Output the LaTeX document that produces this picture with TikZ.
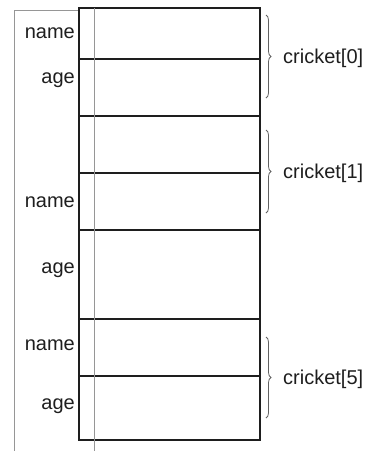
\documentclass[tikz,border=0pt]{standalone}
\usepackage{fontspec}
\setmainfont{Liberation Sans}
\usetikzlibrary{decorations.pathreplacing}
\definecolor{guide}{RGB}{150,150,150}
\definecolor{ink}{RGB}{30,30,30}
\begin{document}
\begin{tikzpicture}[x=1pt,y=-1pt,
  cell/.style={draw=ink,line width=1.3pt},
  guideline/.style={draw=guide,line width=0.9pt},
  lbl/.style={anchor=east,inner sep=0pt,font=\fontsize{20}{20}\selectfont,text=ink},
  brlbl/.style={anchor=west,inner sep=0pt,font=\fontsize{20}{20}\selectfont,text=ink},
  bracestyle/.style={draw=ink!70,line width=0.8pt,decorate,decoration={brace,amplitude=5pt}}]
\useasboundingbox (0,0) rectangle (368,451);
% guide lines
\coordinate (gTL) at (14,10);
\coordinate (gBL) at (14,451);
\coordinate (gTR) at (79,10);
\coordinate (vT) at (94,8);
\coordinate (vB) at (94,451);
\draw[guideline] (gBL) -- (gTL) -- (gTR);
% cells
\foreach \a/\b [count=\i] in {8/59,59/116,116/173,173/230,230/319,319/376,376/440}{
  \draw[cell] (79,\a) rectangle (260,\b);
}
\draw[guideline] (vT) -- (vB);
% labels
\node[lbl] (n0) at (75,33) {name};
\node[lbl] (a0) at (75,80) {age};
\node[lbl] (n1) at (75,202) {name};
\node[lbl] (a1) at (75,270) {age};
\node[lbl] (n5) at (75,345) {name};
\node[lbl] (a5) at (75,406) {age};
% braces
\coordinate (b0t) at (266,15);
\coordinate (b0b) at (266,98);
\coordinate (b1t) at (266,130);
\coordinate (b1b) at (266,213);
\coordinate (b5t) at (266,337);
\coordinate (b5b) at (266,418);
\draw[bracestyle] (b0t) -- (b0b);
\draw[bracestyle] (b1t) -- (b1b);
\draw[bracestyle] (b5t) -- (b5b);
\node[brlbl] (c0) at (283,58) {cricket[0]};
\node[brlbl] (c1) at (283,173) {cricket[1]};
\node[brlbl] (c5) at (283,379) {cricket[5]};
\end{tikzpicture}
\end{document}
